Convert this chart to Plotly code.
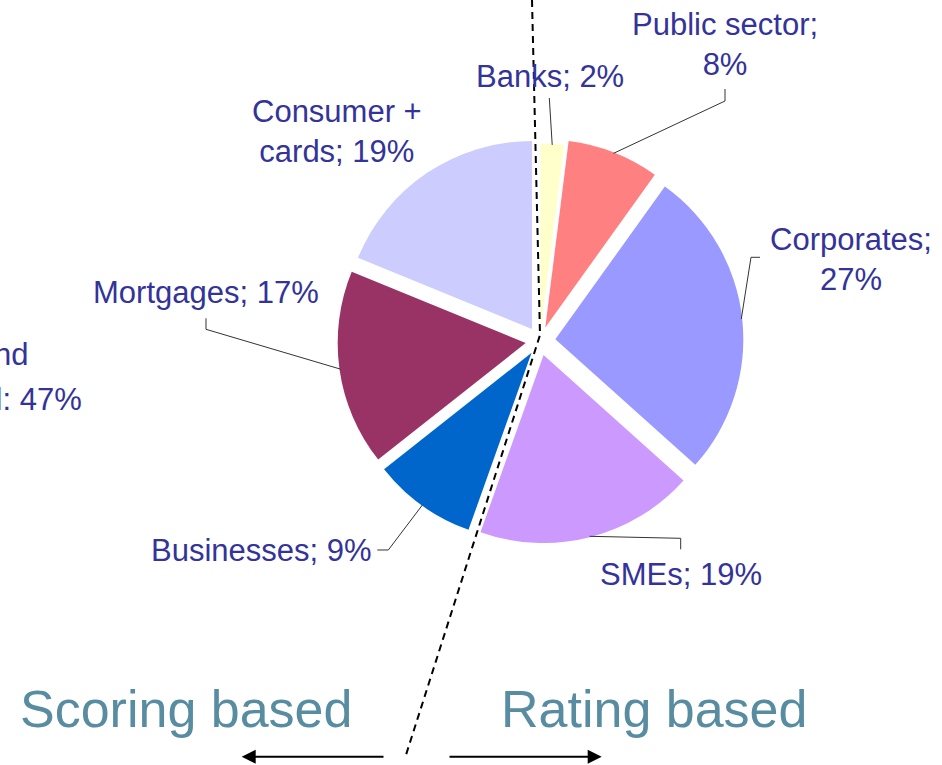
import math
import plotly.graph_objects as go

# ---------------- data ----------------
segments = ["Banks", "Public sector", "Corporates", "SMEs",
            "Businesses", "Mortgages", "Consumer + cards"]
shares = [2, 8, 27, 19, 9, 17, 19]
colors = ["#FFFFCC", "#FF8080", "#9999FF", "#CC99FF",
          "#0066CC", "#993366", "#CCCCFF"]
side_titles = ["Scoring based", "Rating based"]
left_note = ["Retail and", "commercial: 47%"]

# ---------------- layout / style ----------------
W, H = 942, 765
CX, CY, R = 540, 341, 188            # pie centre and radius in pixels
pulls = [0.05, 0.077, 0.082, 0.077, 0.077, 0.077, 0.077]
FONT = "Liberation Sans, Arial, sans-serif"
LABEL_COLOR = "#333399"
TITLE_COLOR = "#588CA0"
FS = 31

label_fmt = {
    "Public sector": "{n};<br>{v}%",
    "Corporates": "{n};<br>{v}%",
    "Consumer + cards": "Consumer +<br>cards; {v}%",
}
# label centre x, first-line baseline y (pixels)
label_pos = {
    "Banks": (550, 87),
    "Public sector": (724.5, 35),
    "Corporates": (851, 250),
    "SMEs": (681.3, 585),
    "Businesses": (261.2, 561),
    "Mortgages": (206.3, 303.3),
    "Consumer + cards": (336.5, 122),
}
# leader-line points from the label side (the slice end is computed)
leader_pts = {
    "Banks": [(549.3, 98)],
    "Public sector": [(725, 89), (725, 101)],
    "Corporates": [(760, 257.3), (751, 257.3)],
    "SMEs": [(680.7, 549.3), (680.7, 538.3)],
    "Businesses": [(377.3, 550), (388.3, 550)],
    "Mortgages": [(206, 318.3), (206, 329.3)],
}


def fx(x):
    return x / W


def fy(y):
    return 1 - y / H


def mid_for_baseline(b, nlines):
    return b + ((nlines - 1) * 1.3 - 0.693) / 2 * FS


maxp = max(pulls)
half = R * (1 + maxp)
dom_x = [fx(CX - half), fx(CX + half)]
dom_y = [fy(CY + half), fy(CY - half)]

fig = go.Figure()
fig.add_trace(go.Pie(
    labels=segments, values=shares, sort=False, direction="clockwise",
    rotation=0, pull=pulls, marker=dict(colors=colors, line=dict(width=0)),
    textinfo="none", hoverinfo="label+percent", showlegend=False,
    domain=dict(x=dom_x, y=dom_y),
))

total = sum(shares)
cum = 0
shapes = []
annotations = []
for name, v, p in zip(segments, shares, pulls):
    mid = (cum + v / 2) / total * 2 * math.pi
    cum += v
    ux, uy = math.sin(mid), -math.cos(mid)
    pcx, pcy = CX + p * R * ux, CY + p * R * uy
    ax_, ay_ = pcx + R * 0.995 * ux, pcy + R * 0.995 * uy
    if name in leader_pts:
        pts = leader_pts[name] + [(ax_, ay_)]
        path = "M " + " L ".join(f"{fx(x):.5f},{fy(y):.5f}" for x, y in pts)
        shapes.append(dict(type="path", path=path, xref="paper", yref="paper",
                           line=dict(color="#333333", width=1), layer="above"))
    fmt = label_fmt.get(name, "{n}; {v}%")
    txt = fmt.format(n=name, v=v)
    nl = txt.count("<br>") + 1
    lx, lb = label_pos[name]
    annotations.append(dict(
        text=txt, x=fx(lx), y=fy(mid_for_baseline(lb, nl)),
        xref="paper", yref="paper", xanchor="center", yanchor="middle",
        showarrow=False, align="center",
        font=dict(family=FONT, size=FS, color=LABEL_COLOR)))

# dashed divider line
div = [(532, 0), (540, 335), (405, 758)]
shapes.append(dict(
    type="path", xref="paper", yref="paper", layer="above",
    path="M " + " L ".join(f"{fx(x):.5f},{fy(y):.5f}" for x, y in div),
    line=dict(color="black", width=2, dash="7px,5px")))

# side titles
for t, cx in zip(side_titles, [185.5, 654]):
    annotations.append(dict(
        text=t, x=fx(cx), y=fy(727 - 0.3465 * 52), xref="paper", yref="paper",
        xanchor="center", yanchor="middle", showarrow=False,
        font=dict(family=FONT, size=52, color=TITLE_COLOR)))

# arrows
for tip, tail in [((241.7, 756.7), (385, 756.7)), ((601.7, 756.7), (448, 756.7))]:
    annotations.append(dict(
        text="", x=fx(tip[0]), y=fy(tip[1]), xref="paper", yref="paper",
        ax=tail[0] - tip[0], ay=tail[1] - tip[1], axref="pixel", ayref="pixel",
        showarrow=True, arrowhead=2, arrowsize=1.4, arrowwidth=2,
        arrowcolor="black", standoff=0, startstandoff=0))

# note running off the left edge (as in the original slide)
for t, rx, b in zip(left_note, [31, 84], [365, 410]):
    annotations.append(dict(
        text=t, x=fx(rx), y=fy(b - 0.3465 * FS), xref="paper", yref="paper",
        xanchor="right", yanchor="middle", showarrow=False,
        font=dict(family=FONT, size=FS, color=LABEL_COLOR)))

fig.update_layout(
    width=W, height=H, margin=dict(l=0, r=0, t=0, b=0),
    paper_bgcolor="white", plot_bgcolor="white",
    shapes=shapes, annotations=annotations,
)
fig.write_html("out.html",
               config={"displayModeBar": False},
               post_script="document.body.style.margin='0px';"
                           "document.body.style.overflow='hidden';")
